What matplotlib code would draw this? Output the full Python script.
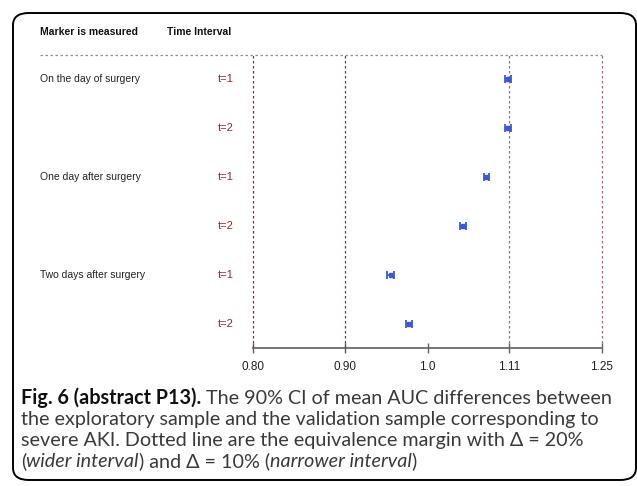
import matplotlib
matplotlib.use("Agg")
import matplotlib.pyplot as plt
import matplotlib.transforms as mtransforms
from matplotlib.patches import FancyBboxPatch
from matplotlib.lines import Line2D

# data
groups = ["On the day of surgery", "One day after surgery", "Two days after surgery"]
intervals = ["t=1", "t=2", "t=1", "t=2", "t=1", "t=2"]
means = [1.108, 1.108, 1.078, 1.047, 0.954, 0.977]
lower = [1.104, 1.104, 1.075, 1.043, 0.950, 0.973]
upper = [1.113, 1.113, 1.082, 1.051, 0.958, 0.981]
ticks = [0.80, 0.90, 1.0, 1.11, 1.25]
tick_labels = ["0.80", "0.90", "1.0", "1.11", "1.25"]
margins_wide = [0.80, 1.25]
margins_narrow = [0.90, 1.11]

W, H = 637, 486
fig = plt.figure(figsize=(W / 100, H / 100), dpi=100)

def fx(px):
    return px / W

def fy(py):
    return 1 - py / H

# outer rounded frame
frame = FancyBboxPatch((fx(13), fy(480)), fx(636) - fx(13), fy(13) - fy(480),
                       boxstyle="round,pad=0,rounding_size=0.025",
                       transform=fig.transFigure, fill=False, ec="black", lw=1.4)
fig.add_artist(frame)

ax = fig.add_axes([fx(253), fy(348), fx(602) - fx(253), fy(55) - fy(348)])
ax.set_xscale("log")
ax.set_xlim(0.80, 1.25)
rows = list(range(1, len(means) + 1))
ax.set_ylim(6.5, 0.5)

red = "#8b2a2a"
mauve = "#9a7272"
dash = (0, (2, 2))
for v in margins_narrow:
    ax.axvline(v, color=red if v == 0.90 else mauve, ls=dash, lw=0.9, clip_on=False)
for v in margins_wide:
    ax.axvline(v, color=red if v == 0.80 else mauve, ls=dash, lw=0.9, clip_on=False)

xerr = [[m - l for m, l in zip(means, lower)], [u - m for m, u in zip(means, upper)]]
ax.errorbar(means, rows, xerr=xerr, fmt="s", color="#3a5bd0", ms=2.5,
            capsize=3.2, elinewidth=1.2, capthick=1.3, zorder=3)

for s in ["top", "right", "left"]:
    ax.spines[s].set_visible(False)
ax.spines["bottom"].set_color("#606060")
ax.spines["bottom"].set_linewidth(1.2)
ax.set_yticks([])
ax.xaxis.set_minor_locator(matplotlib.ticker.NullLocator())
ax.set_xticks(ticks)
ax.set_xticklabels(tick_labels)
ax.tick_params(axis="x", direction="inout", length=7, width=1, color="#606060",
               labelsize=8.5, pad=6, labelcolor="#222222")
for lab in ax.get_xticklabels():
    lab.set_family("Liberation Sans")

# dashed header separator
fig.add_artist(Line2D([fx(40), fx(602)], [fy(55), fy(55)], transform=fig.transFigure,
                      color="#909090", ls=dash, lw=0.9))

fig.text(fx(40), fy(32), "Marker is measured", family="Liberation Sans", weight="bold",
         fontsize=7.5, va="center", color="#111111")
fig.text(fx(167), fy(32), "Time Interval", family="Liberation Sans", weight="bold",
         fontsize=7.5, va="center", color="#111111")

blend = mtransforms.blended_transform_factory(fig.transFigure, ax.transData)
for i, g in enumerate(groups):
    ax.text(fx(40), rows[2 * i], g, transform=blend, family="Liberation Sans",
            fontsize=7.5, va="center", color="#222222")
for r, t in zip(rows, intervals):
    ax.text(fx(234), r, t, transform=blend, family="Liberation Sans",
            fontsize=8, va="center", ha="right", color=red)

# caption
caption = [
    [("Fig. 6 (abstract P13).", "bold", "normal"),
     (" The 90% CI of mean AUC differences between", "normal", "normal")],
    [("the exploratory sample and the validation sample corresponding to", "normal", "normal")],
    [("severe AKI. Dotted line are the equivalence margin with \u0394 = 20%", "normal", "normal")],
    [("(", "normal", "normal"), ("wider interval", "normal", "italic"),
     (") and \u0394 = 10% (", "normal", "normal"), ("narrower interval", "normal", "italic"),
     (")", "normal", "normal")],
]
line_y = [398, 419, 440, 461]
cap_font = "Lato"
fig.canvas.draw()
renderer = fig.canvas.get_renderer()

# pick size so the first caption line spans the same width as the reference
probe = 10.0
w = 0
for txt, wgt, sty in caption[0]:
    t = fig.text(0, 0, txt, family=cap_font, fontsize=probe, weight=wgt, style=sty)
    w += t.get_window_extent(renderer).width
    t.remove()
cap_size = probe * (612 - 21) / w

for parts, yy in zip(caption, line_y):
    x = fx(21)
    for txt, wgt, sty in parts:
        t = fig.text(x, fy(yy), txt, family=cap_font, fontsize=cap_size, weight=wgt,
                     style=sty, va="center", color="#111111" if wgt == "bold" else "#3a3a3a")
        bb = t.get_window_extent(renderer)
        x += bb.width / W

fig.savefig("out.png", dpi=100)
